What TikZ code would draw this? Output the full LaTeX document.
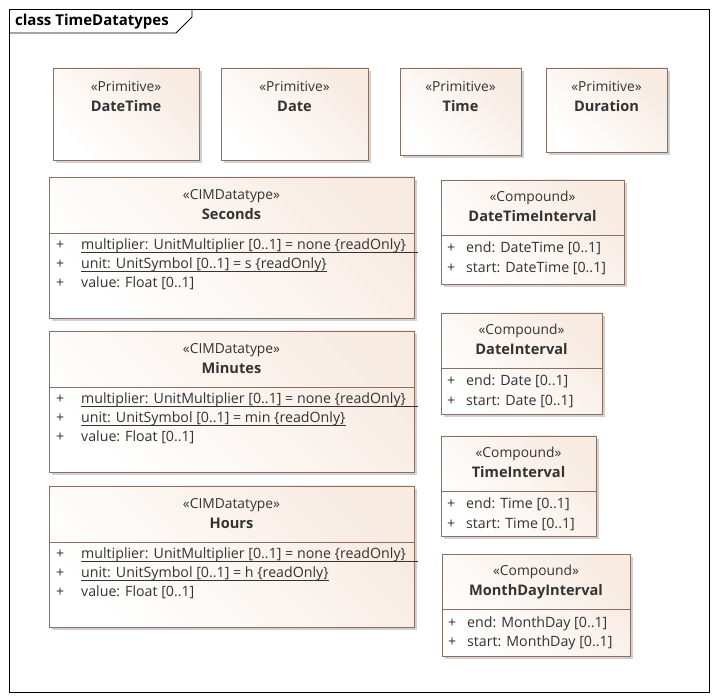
\documentclass[tikz,border=0pt]{standalone}
\usepackage{fontspec}
\setmainfont{Open Sans}
\begin{document}
\begin{tikzpicture}[x=1pt,y=-1pt,
 box/.style={draw=boxline,line width=0.8pt,top color=white,bottom color=boxfill,shading angle=135},
 st/.style={font=\fontsize{13.8}{15}\selectfont,text=txt,anchor=base,inner sep=0pt},
 nm/.style={font=\fontsize{14.6}{16}\selectfont\bfseries,text=txt,anchor=base,inner sep=0pt},
 att/.style={font=\fontsize{14.2}{16}\selectfont,text=txt,anchor=base west,inner sep=0pt}]
\definecolor{boxline}{HTML}{8C6E62}
\definecolor{boxfill}{HTML}{F7EBE2}
\definecolor{txt}{HTML}{333333}
\definecolor{shad}{HTML}{D0D0D0}
\useasboundingbox (0,0) rectangle (718,700);
\fill[white] (0,0) rectangle (718,700);
\draw[line width=0.8pt] (9,9) rectangle (709,692);
\draw[line width=0.8pt] (9,33) -- (176,33) -- (192,17) -- (192,9);
\node[font=\fontsize{15}{17}\selectfont\bfseries,anchor=base west,inner sep=0pt] (title) at (15,26) {class TimeDatatypes};
% primitive boxes
\foreach \n/\l/\t/\r/\b/\s in {dt/53/68/199/160/DateTime, d/221/68/368/160/Date, t/400/68/521/155/Time, du/546/68/667/152/Duration}{
 \fill[shad] (\l+3,\t+3) rectangle (\r+3,\b+3);
 \draw[box] (\l,\t) rectangle (\r,\b);
 \node[st] (\n s) at ({(\l+\r)/2},92) {«Primitive»};
 \node[nm] (\n n) at ({(\l+\r)/2},111.5) {\s};
}
% CIMDatatype boxes
\foreach \n/\t/\s/\u in {sec/177/Seconds/s, min/331/Minutes/min, hr/486/Hours/h}{
 \fill[shad] (52,\t+3) rectangle (417,\t+144);
 \draw[box] (49,\t) rectangle (414,\t+141);
 \draw[boxline,line width=0.8pt] (49,\t+56) -- (414,\t+56);
 \node[st] (\n s) at (231.5,\t+23) {«CIMDatatype»};
 \node[nm] (\n n) at (231.5,\t+42.5) {\s};
 \foreach \k in {0,1,2} \node[att] (\n p\k) at (56,\t+72.5+\k*19) {+};
 \node[att] (\n a) at (81,\t+72.5) {multiplier: UnitMultiplier [0..1] = none \{readOnly\}};
 \node[att] (\n b) at (81,\t+91.5) {unit: UnitSymbol [0..1] = \u\ \{readOnly\}};
 \node[att] (\n c) at (81,\t+110.5) {value: Float [0..1]};
 \draw[txt,line width=0.6pt] (81,\t+75.5) -- (418,\t+75.5);
 \draw[txt,line width=0.6pt] ([yshift=-3pt]\n b.base west) -- ([yshift=-3pt]\n b.base east);
}
% Compound boxes
\foreach \n/\l/\t/\r/\b/\s/\ty in {dti/441/180/624/284/DateTimeInterval/DateTime, di/441/313/602/414/DateInterval/Date, ti/441/436/596/536/TimeInterval/Time, mdi/442/554/630/656/MonthDayInterval/MonthDay}{
 \fill[shad] (\l+3,\t+3) rectangle (\r+3,\b+3);
 \draw[box] (\l,\t) rectangle (\r,\b);
 \draw[boxline,line width=0.8pt] (\l,\t+55) -- (\r,\t+55);
 \node[st] (\n s) at ({(\l+\r)/2},\t+22) {«Compound»};
 \node[nm] (\n n) at ({(\l+\r)/2},\t+41.5) {\s};
 \node[att] (\n p1) at (\l+6,\t+73) {+};
 \node[att] (\n p2) at (\l+6,\t+92.5) {+};
 \node[att] (\n a) at (\l+25,\t+73) {end: \ty\ [0..1]};
 \node[att] (\n b) at (\l+25,\t+92.5) {start: \ty\ [0..1]};
}
\end{tikzpicture}
\end{document}
